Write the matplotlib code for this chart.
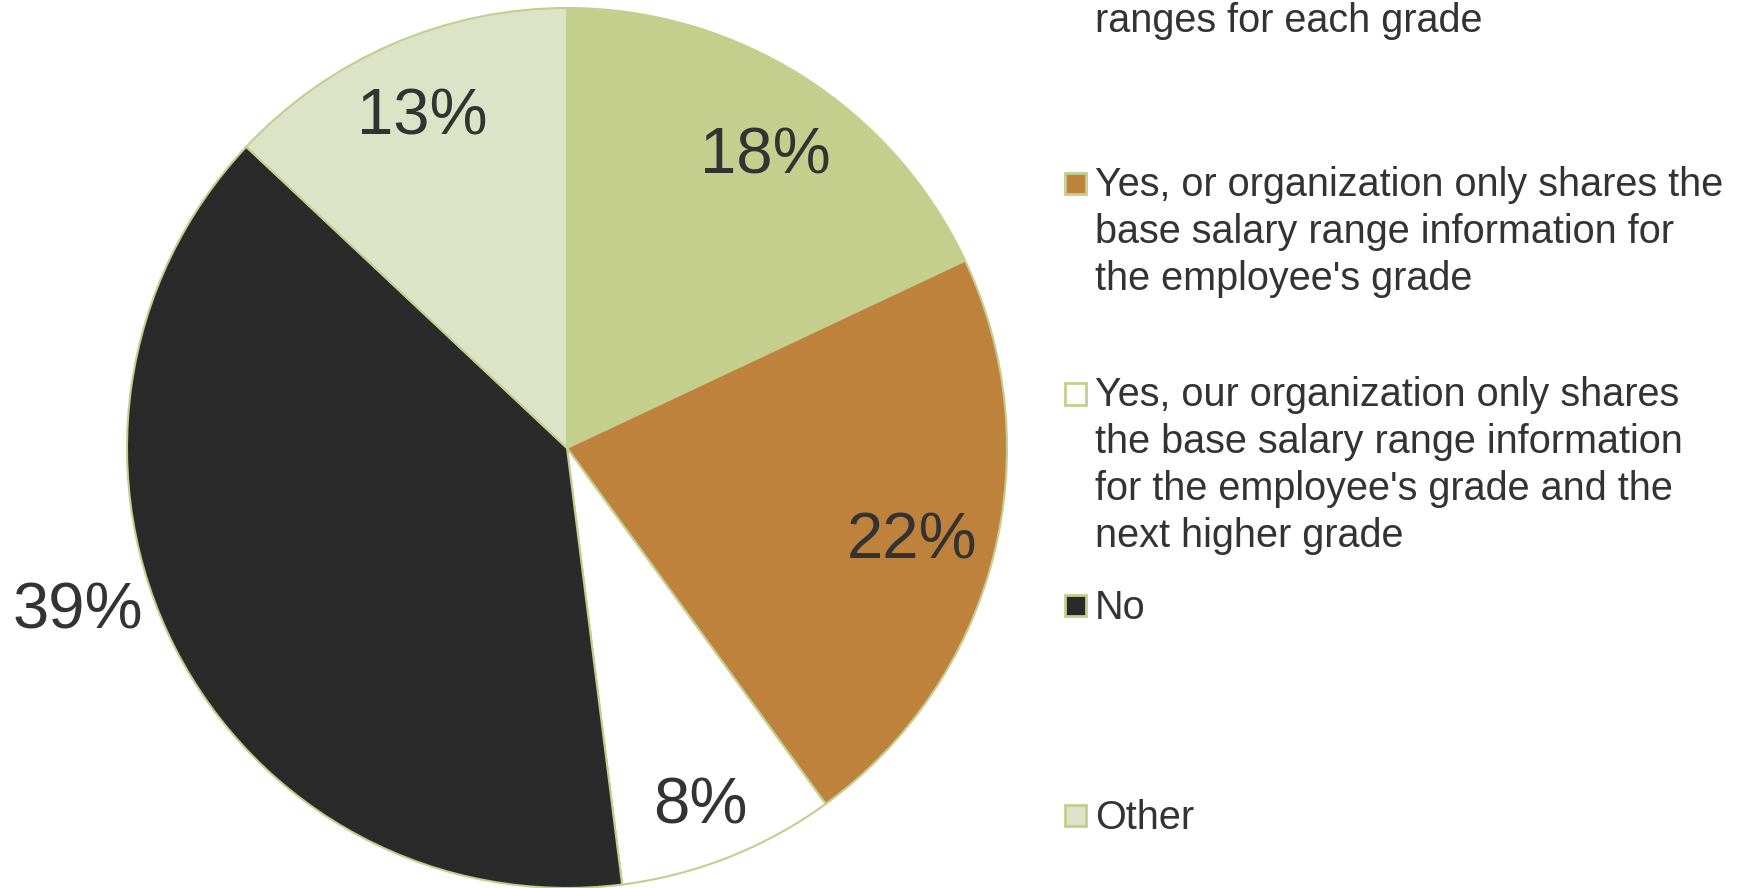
import numpy as np
import matplotlib.pyplot as plt
from matplotlib.patches import Rectangle

plt.rcParams['font.family'] = ['Liberation Sans', 'DejaVu Sans']

# Survey answers, clockwise from 12 o'clock
labels = [
    "ranges for each grade",
    "Yes, or organization only shares the\nbase salary range information for\nthe employee's grade",
    "Yes, our organization only shares\nthe base salary range information\nfor the employee's grade and the\nnext higher grade",
    "No",
    "Other",
]
shares = [18, 22, 8, 39, 13]
colors = ["#C4CF8D", "#BF823C", "#FFFFFF", "#2A2A2A", "#DDE3C6"]
edge = "#C3CF8E"
text_col = "#333333"

W, H = 1745, 888
fig = plt.figure(figsize=(W / 100, H / 100), dpi=100)

# pie axes: centre (567, 448) px from top-left, radius 440 px
cx, cy, r = 567, H - 448, 440
ax = fig.add_axes([(cx - r) / W, (cy - r) / H, 2 * r / W, 2 * r / H])

wedges, _ = ax.pie(shares, colors=colors, startangle=90, counterclock=False,
                   radius=1, wedgeprops=dict(edgecolor=edge, linewidth=1.5))
ax.set_xlim(-1, 1)
ax.set_ylim(-1, 1)
ax.set_aspect("equal")
ax.axis("off")

# label placement: radial distance and angular nudge per slice
dist = [0.81, 0.81, 0.86, 1.17, 0.83]
nudge = [-1.5, 0, -1, -9, 0]
for w, v, d, n in zip(wedges, shares, dist, nudge):
    mid = np.deg2rad((w.theta1 + w.theta2) / 2 + n)
    ax.text(d * np.cos(mid), d * np.sin(mid) - 0.01, f"{v}%", ha="center",
            va="center", fontsize=47, color=text_col, clip_on=False)

# legend drawn as boxes + wrapped text in pixel coordinates
step = 46.2
marker_y = [-74, 183.5, 394, 605, 815]
first_base = [32, 197.5, 408, 619, 829]
for lab, col, my, fb in zip(labels, colors, marker_y, first_base):
    fig.patches.append(Rectangle((1065 / W, (H - my - 10.5) / H), 21 / W, 21 / H,
                                 transform=fig.transFigure, facecolor=col,
                                 edgecolor=edge, linewidth=2))
    # baseline alignment is on the last line of a multi-line text
    last_base = fb + step * lab.count("\n")
    fig.text(1095 / W, (H - last_base) / H, lab, ha="left", va="baseline",
             fontsize=28.5, color=text_col, linespacing=1.30,
             transform=fig.transFigure)

fig.savefig("out.png", dpi=100)
